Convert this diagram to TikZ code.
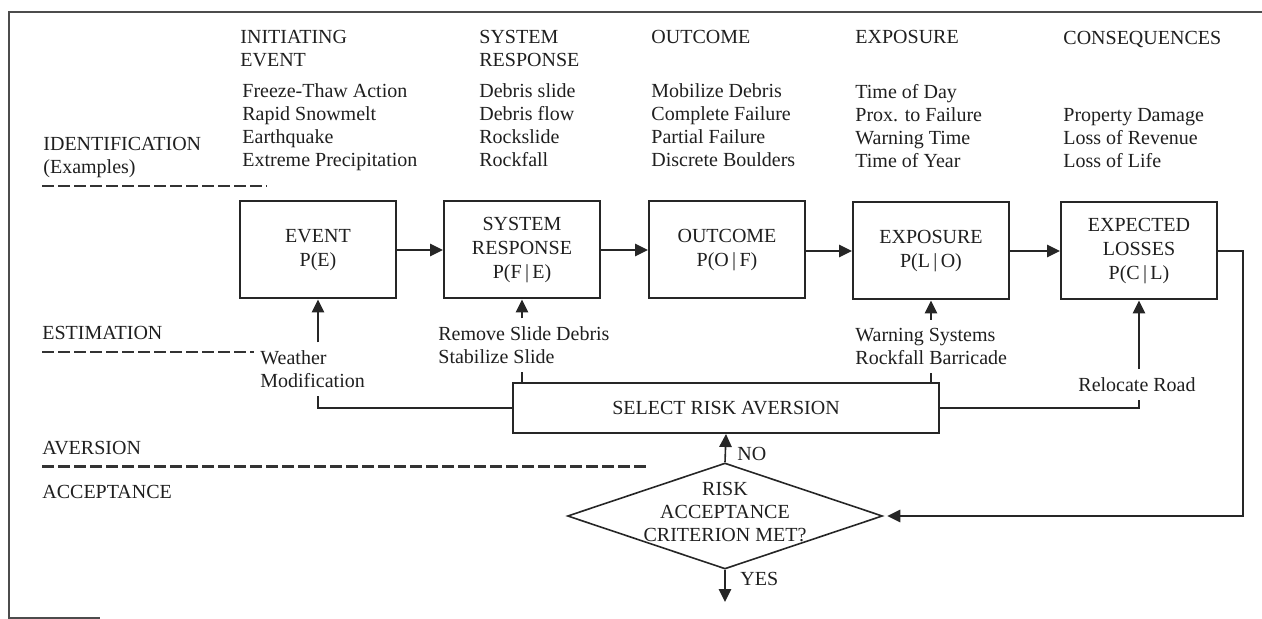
\documentclass[tikz,border=0pt]{standalone}
\usepackage{fontspec}
\setmainfont{Liberation Serif}
\usetikzlibrary{arrows.meta,shapes.geometric}
\begin{document}
\begin{tikzpicture}[x=0.5pt,y=-0.5pt,
  font=\fontsize{10}{11.5}\selectfont,
  every node/.style={inner sep=0pt, text=black!88},
  txt/.style={align=left},
  box/.style={draw=black!85, line width=1pt, minimum width=78pt, minimum height=48.5pt, align=center, font=\fontsize{10}{12}\selectfont},
  conn/.style={draw=black!85, line width=0.8pt},
  arr/.style={conn, -{Triangle[length=6.5pt,width=6.2pt]}},
  dashline/.style={draw=black!80, line width=1.3pt, dash pattern=on 6pt off 2pt},
  lab/.style={align=left, inner ysep=4pt},
  frame/.style={draw=black!70, line width=0.8pt}
]
\useasboundingbox (0,0) rectangle (1262,619);

% frame
\draw[frame] (1262,12) -- (9,12) -- (9,618) -- (100,618);

% column headers
\node[txt, anchor=west] (hie) at (240,48.5) {INITIATING\\EVENT};
\node[txt, anchor=west] (hsr) at (479,48.5) {SYSTEM\\RESPONSE};
\node[anchor=base west] (hoc) at (651,44) {OUTCOME};
\node[anchor=base west] (hex) at (855,44) {EXPOSURE};
\node[anchor=base west] (hcq) at (1063,44.5) {CONSEQUENCES};

% example lists
\node[txt, anchor=west] (lie) at (242,127.4) {Freeze-Thaw Action\\Rapid Snowmelt\\Earthquake\\Extreme Precipitation};
\node[txt, anchor=west] (lsr) at (479,125.3) {Debris slide\\Debris flow\\Rockslide\\Rockfall};
\node[txt, anchor=west] (loc) at (651,125.5) {Mobilize Debris\\Complete Failure\\Partial Failure\\Discrete Boulders};
\node[txt, anchor=west] (lex) at (855,126.5) {Time of Day\\Prox. to Failure\\Warning Time\\Time of Year};
\node[txt, anchor=west] (lcq) at (1063,138) {Property Damage\\Loss of Revenue\\Loss of Life};

% row labels
\node[txt, anchor=west] (rid) at (43,158) {IDENTIFICATION\\(Examples)};
\node[anchor=base west] (rest) at (42,339.5) {ESTIMATION};
\node[anchor=base west] (rav) at (42,454.5) {AVERSION};
\node[anchor=base west] (rac) at (42,498.5) {ACCEPTANCE};

% dashed separators
\draw[dashline] (42,186) -- (267,186);
\draw[dashline] (42,352) -- (254,352);
\draw[dashline] (42,466.5) -- (647,466.5);

% main boxes
\node[box] (ev) at (318,250) {EVENT\\P(E)};
\node[box] (sys) at (522,250) {SYSTEM\\RESPONSE\\P(F\,|\,E)};
\node[box] (oc) at (727,250) {OUTCOME\\P(O\,|\,F)};
\node[box] (ex) at (931,251) {EXPOSURE\\P(L\,|\,O)};
\node[box] (el) at (1139,251) {EXPECTED\\LOSSES\\P(C\,|\,L)};

% risk aversion box and decision
\node[draw=black!85, line width=1pt, minimum width=213pt, minimum height=25pt] (sra) at (726,408) {SELECT RISK AVERSION};
\node[diamond, draw=black!85, line width=0.8pt, minimum width=157.5pt, minimum height=53pt] (crit) at (725,516) {};
\node[align=center] (ctext) at (725,512) {RISK\\ACCEPTANCE\\CRITERION MET?};
\node[anchor=base west] (no) at (737,460.5) {NO};
\node[anchor=base west] (yes) at (740,585.5) {YES};

% mitigation labels
\node[lab, anchor=west] (wm) at (260,369.3) {Weather\\Modification};
\node[lab, anchor=west] (rsd) at (438,345.3) {Remove Slide Debris\\Stabilize Slide};
\node[lab, anchor=west] (warn) at (855,346.5) {Warning Systems\\Rockfall Barricade};
\node[lab, anchor=base west] (rr) at (1078,391.5) {Relocate Road};

% main chain
\draw[arr] (ev.east) -- (sys.west);
\draw[arr] (sys.east) -- (oc.west);
\draw[arr] (oc.east |- ex.west) -- (ex.west);
\draw[arr] (ex.east) -- (el.west);

% feedback to decision
\coordinate (rc) at (1243,516);
\draw[arr, shorten >=2pt] (el.east) -| (rc) -- (crit.east);
\draw[arr] (crit.north) -- (sra.south);
\coordinate (yesend) at (725,602);
\draw[arr] (crit.south) -- (yesend);

% aversion measures
\draw[arr] (ev.south |- wm.north) -- (ev.south);
\draw[conn] (ev.south |- wm.south) |- (sra.west);
\draw[arr] (sys.south |- rsd.north) -- (sys.south);
\draw[conn] (sys.south |- rsd.south) -- (sys.south |- sra.north);
\draw[arr] (ex.south |- warn.north) -- (ex.south);
\draw[conn] (ex.south |- warn.south) -- (ex.south |- sra.north);
\draw[arr] (el.south |- rr.north) -- (el.south);
\draw[conn] (sra.east) -| (el.south |- rr.south);
\end{tikzpicture}
\end{document}
